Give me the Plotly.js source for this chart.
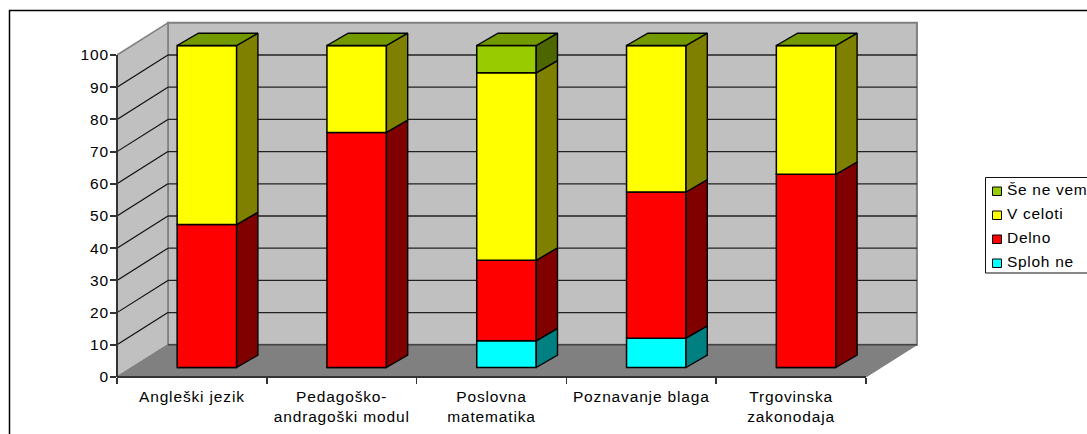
<!DOCTYPE html>
<html><head><meta charset="utf-8">
<script src="https://cdn.plot.ly/plotly-3.0.0.min.js"></script>
<style>html,body{margin:0;padding:0;background:#fff;overflow:hidden}
#c text{letter-spacing:0.85px}
#c .annotation text{letter-spacing:0.7px}</style></head>
<body><div id="c" style="width:1087px;height:434px"></div>
<script>
const categories = ["Angleški jezik","Pedagoško-<br>andragoški modul","Poslovna<br>matematika","Poznavanje blaga","Trgovinska<br>zakonodaja"];
const seriesNames = ["Sploh ne","Delno","V celoti","Še ne vem"];
const splohNe = [0,0,8.3,9.1,0];
const delno   = [44.4,73,25,45.4,60];
const vCeloti = [55.6,27,58.2,45.5,40];
const seNeVem = [0,0,8.5,0,0];
const frontColors = ["#00ffff","#ff0000","#ffff00","#99cc00"];
const sideColors  = ["#008080","#800000","#808000","#4d6600"];
const topColor = "#739900";
const yTicks = [0,10,20,30,40,50,60,70,80,90,100];

const series = [splohNe,delno,vCeloti,seNeVem];
const idx = categories.map((_,i)=>i);
// 3D projection constants, in axis units
const wallDx=0.34, wallDy=10, barDx=0.142, barDy=3.82, barShift=0.1, barBase=2.95, barW=0.397;
const L=117,R=922,T=20,B=377;
const pxW=R-L, pxH=B-T;
const px=p=>(p-L)/pxW, py=p=>(B-p)/pxH;
const xMin=-0.5, xMax=xMin+pxW/149.8, yMax=pxH/3.22;

function path(pts){return 'M'+pts.map(p=>p[0]+','+p[1]).join('L')+'Z';}
const shapes=[];
const x0=xMin,x1=4.5;
shapes.push({type:'path',layer:'below',path:path([[x0+wallDx,wallDy],[x1+wallDx,wallDy],[x1+wallDx,100+wallDy],[x0+wallDx,100+wallDy]]),fillcolor:'#c0c0c0',line:{color:'#808080',width:2}});
shapes.push({type:'path',layer:'below',path:path([[x0,0],[x0+wallDx,wallDy],[x0+wallDx,100+wallDy],[x0,100]]),fillcolor:'#c0c0c0',line:{color:'#808080',width:1.5}});
shapes.push({type:'path',layer:'below',path:path([[x0,0],[x1,0],[x1+wallDx,wallDy],[x0+wallDx,wallDy]]),fillcolor:'#808080',line:{color:'#808080',width:1}});
yTicks.forEach(v=>{
  if(v>0 && v<100) shapes.push({type:'line',layer:'below',x0:x0+wallDx,x1:x1+wallDx,y0:v+wallDy,y1:v+wallDy,line:{color:'#222',width:1.3}});
  if(v===0) shapes.push({type:'line',layer:'below',x0:x0+wallDx,x1:x1+wallDx,y0:wallDy,y1:wallDy,line:{color:'#444',width:1.5}});
  if(v>0 && v<100) shapes.push({type:'line',layer:'below',x0:x0,x1:x0+wallDx,y0:v,y1:v+wallDy,line:{color:'#111',width:1.2}});
});
// axis lines
shapes.push({type:'line',xref:'paper',yref:'y',x0:0,x1:0,y0:0,y1:100,line:{color:'#333',width:2}});
shapes.push({type:'line',xref:'x',yref:'paper',x0:x0,x1:x1,y0:0,y1:0,line:{color:'#333',width:2}});
// outer frame (open past the picture edge)
shapes.push({type:'path',xref:'paper',yref:'paper',path:path([[px(9.5),py(10.5)],[px(1100),py(10.5)],[px(1100),py(450)],[px(9.5),py(450)]]),fillcolor:'rgba(0,0,0,0)',line:{color:'#000',width:1.5}});
// legend
const annotations=[];
shapes.push({type:'path',xref:'paper',yref:'paper',path:path([[px(985.5),py(177.5)],[px(1100),py(177.5)],[px(1100),py(273)],[px(985.5),py(273)]]),fillcolor:'#fff',line:{color:'#111',width:1}});
[3,2,1,0].forEach((s,r)=>{
  const cy=189+r*24;
  shapes.push({type:'rect',xref:'paper',yref:'paper',x0:px(992.5),x1:px(1001.5),y0:py(cy+6.5),y1:py(cy-2),fillcolor:frontColors[s],line:{color:'#000',width:1}});
  annotations.push({xref:'paper',yref:'paper',x:px(1004.5),y:py(cy),xanchor:'left',yanchor:'middle',align:'left',showarrow:false,text:seriesNames[s],font:{family:'"Liberation Sans",Arial,sans-serif',size:15.5,color:'#000'}});
});

const traces=[];
const bases=idx.map(()=>barBase);
const sidePolys=[];
series.forEach((vals,s)=>{
  const base=bases.slice();
  traces.push({type:'bar',name:seriesNames[s],x:idx.map(i=>i+barShift),y:vals,base:base,width:barW,
    marker:{color:frontColors[s],line:{color:'#000',width:1.5}},showlegend:false,hoverinfo:'name+y'});
  const sx=[],sy=[];
  idx.forEach(i=>{
    if(vals[i]<=0) return;
    const xr=i+barShift+barW/2;
    const y0=base[i],y1=base[i]+vals[i];
    sx.push(xr,xr+barDx,xr+barDx,xr,xr,null);
    sy.push(y0,y0+barDy,y1+barDy,y1,y0,null);
  });
  sidePolys.push({type:'scatter',mode:'lines',x:sx,y:sy,fill:'toself',fillcolor:sideColors[s],line:{color:'#000',width:1.4},showlegend:false,hoverinfo:'skip'});
  idx.forEach(i=>{bases[i]+=vals[i];});
});
sidePolys.forEach(t=>traces.push(t));
const tx=[],ty=[];
idx.forEach(i=>{
  const xl=i+barShift-barW/2,xr=i+barShift+barW/2,y=bases[i];
  tx.push(xl,xr,xr+barDx,xl+barDx,xl,null);
  ty.push(y,y,y+barDy,y+barDy,y,null);
});
traces.push({type:'scatter',mode:'lines',x:tx,y:ty,fill:'toself',fillcolor:topColor,line:{color:'#000',width:1.4},showlegend:false,hoverinfo:'skip'});

const font={family:'"Liberation Sans",Arial,sans-serif',size:15.5,color:'#000'};
const layout={
  width:1087,height:434,paper_bgcolor:'#fff',plot_bgcolor:'rgba(0,0,0,0)',
  margin:{l:L,r:1087-R,t:T,b:434-B,pad:0},
  barmode:'overlay',showlegend:false,font:font,
  xaxis:{range:[xMin,xMax],tickmode:'array',tickvals:idx,ticktext:categories,ticks:'',showgrid:false,zeroline:false,showline:false,tickfont:font,ticklabelstandoff:8,
    minor:{tickmode:'array',tickvals:[-0.5,0.5,1.5,2.5,3.5,4.5],ticks:'outside',ticklen:6,tickwidth:1.5,tickcolor:'#333',showgrid:false}},
  yaxis:{range:[0,yMax],tickmode:'array',tickvals:yTicks,ticktext:yTicks.map(String),ticks:'outside',ticklen:6,tickwidth:2,tickcolor:'#333',showgrid:false,zeroline:false,showline:false,tickfont:font,ticklabelstandoff:-2},
  shapes:shapes,annotations:annotations
};
Plotly.newPlot('c',traces,layout,{staticPlot:true,displayModeBar:false});
</script></body></html>
